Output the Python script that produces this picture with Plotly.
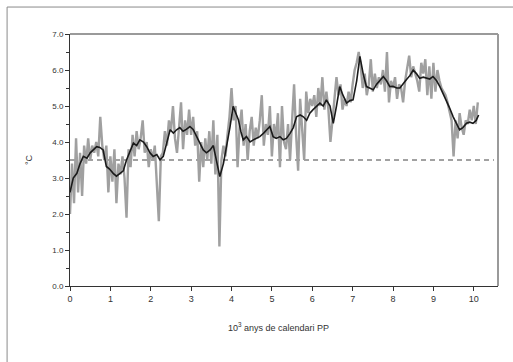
import plotly.graph_objects as go

# Raw temperature series (°C), sampled every 50 years from 0 to 10.1 ka cal BP
step_ka = 0.05
raw_temp = [
    2.0, 3.4, 2.3, 4.1, 2.6, 3.7, 2.5, 3.9, 3.4, 4.1,
    3.5, 3.9, 3.7, 4.0, 3.6, 4.7, 3.9, 3.5, 3.9, 2.6,
    3.6, 2.9, 3.8, 2.3, 3.4, 3.1, 3.6, 3.0, 1.9, 3.8,
    3.3, 4.2, 3.6, 4.3, 3.8, 4.1, 4.6, 3.7, 4.0, 3.3,
    3.8, 3.5, 3.9, 3.0, 1.8, 3.6, 3.7, 4.3, 3.9, 4.6,
    4.3, 5.0, 4.1, 3.7, 4.5, 5.1, 3.8, 4.6, 4.2, 4.9,
    4.2, 4.7, 3.9, 4.3, 2.9, 4.0, 3.3, 4.1, 3.5, 4.3,
    3.4, 4.6, 3.1, 4.2, 1.1, 3.5, 3.9, 3.6, 4.2, 4.7,
    5.5, 4.6, 5.0, 3.3, 4.4, 4.9, 3.9, 4.5, 3.5, 4.3,
    4.7, 3.9, 4.4, 4.1, 4.6, 5.3, 3.9, 4.5, 4.2, 5.0,
    3.6, 4.5, 4.1, 4.8, 3.3, 5.0, 4.0, 3.8, 4.5, 3.5,
    4.6, 5.6, 4.2, 3.2, 5.2, 4.4, 3.5, 5.4, 4.8, 5.2,
    5.0, 5.3, 4.7, 5.5, 5.0, 5.8, 4.9, 5.4, 4.9, 4.0,
    4.7, 5.2, 5.8, 5.3, 5.6, 4.9, 5.2, 5.0, 5.4, 5.1,
    5.6, 6.0, 6.2, 6.5, 6.1, 5.5, 5.9, 5.3, 5.6, 6.3,
    5.4, 5.9, 5.5, 5.8, 5.6, 6.0, 5.4, 6.5, 5.1, 5.7,
    5.5, 5.8, 5.2, 5.6, 5.5, 5.1, 5.7, 6.0, 6.4, 5.8,
    6.1, 5.9, 5.7, 5.4, 6.2, 5.9, 6.3, 5.3, 6.1, 5.2,
    6.2, 5.4, 6.0, 5.7, 5.5, 5.4, 5.3, 5.1, 4.8, 4.6,
    3.6, 4.6, 4.1, 4.8, 4.4, 4.2, 4.6, 4.5, 4.9, 4.6,
    5.0, 4.5, 5.1,
]
raw_age = [round(i * step_ka, 2) for i in range(len(raw_temp))]

# Smoothed temperature curve
smooth_age = [
    0.0, 0.08, 0.17, 0.25, 0.33, 0.42, 0.5, 0.58, 0.66, 0.74,
    0.82, 0.9, 0.98, 1.07, 1.15, 1.24, 1.32, 1.4, 1.48, 1.57,
    1.65, 1.73, 1.82, 1.9, 1.98, 2.06, 2.15, 2.23, 2.31, 2.39,
    2.48, 2.56, 2.64, 2.72, 2.8, 2.88, 2.97, 3.05, 3.14, 3.22,
    3.3, 3.38, 3.47, 3.55, 3.6, 3.66, 3.71, 3.8, 3.88, 3.96,
    4.04, 4.1, 4.17, 4.23, 4.29, 4.37, 4.46, 4.54, 4.62, 4.7,
    4.79, 4.87, 4.95, 5.03, 5.11, 5.2, 5.28, 5.36, 5.45, 5.53,
    5.61, 5.7, 5.78, 5.86, 5.94, 6.02, 6.11, 6.19, 6.27, 6.35,
    6.44, 6.52, 6.6, 6.68, 6.76, 6.85, 6.93, 7.01, 7.1, 7.18,
    7.26, 7.34, 7.42, 7.51, 7.59, 7.67, 7.76, 7.84, 7.92, 8.0,
    8.09, 8.17, 8.25, 8.33, 8.42, 8.5, 8.58, 8.66, 8.75, 8.83,
    8.91, 8.99, 9.08, 9.16, 9.24, 9.32, 9.4, 9.49, 9.57, 9.65,
    9.73, 9.82, 9.9, 9.98, 10.06, 10.12,
]
smooth_temp = [
    2.6, 3.0, 3.13, 3.4, 3.6, 3.55, 3.7, 3.8, 3.87, 3.85,
    3.78, 3.32, 3.25, 3.13, 3.05, 3.13, 3.2, 3.5, 3.7, 3.97,
    3.9, 4.06, 4.0, 3.87, 3.7, 3.6, 3.65, 3.5, 3.6, 3.97,
    4.34, 4.25, 4.34, 4.4, 4.3, 4.35, 4.43, 4.35, 4.15, 3.95,
    3.78, 3.7, 3.78, 3.9, 3.6, 3.3, 3.04, 3.4, 3.87, 4.4,
    4.99, 4.8, 4.62, 4.3, 4.06, 4.15, 4.0, 4.06, 4.1, 4.15,
    4.24, 4.35, 4.43, 4.15, 4.1, 4.15, 4.06, 4.1, 4.24, 4.4,
    4.7, 4.75, 4.7, 4.6, 4.8, 4.9, 5.0, 5.08, 5.0, 5.17,
    5.0, 4.52, 5.0, 5.54, 5.3, 5.08, 5.15, 5.17, 5.7, 6.38,
    5.9, 5.54, 5.5, 5.45, 5.6, 5.7, 5.82, 5.7, 5.54, 5.55,
    5.5, 5.5, 5.6, 5.73, 5.85, 6.0, 5.9, 5.77, 5.8, 5.77,
    5.75, 5.82, 5.7, 5.54, 5.35, 5.17, 4.95, 4.7, 4.5, 4.34,
    4.4, 4.52, 4.55, 4.52, 4.6, 4.75,
]

reference_temp = 3.5
x_ticks = list(range(0, 11))
y_ticks = [0, 1, 2, 3, 4, 5, 6, 7]

font_family = "Liberation Sans, Arial, sans-serif"

fig = go.Figure()
fig.add_trace(go.Scatter(
    x=raw_age, y=raw_temp, mode="lines",
    line=dict(color="#a0a0a0", width=2.4),
    hoverinfo="skip", showlegend=False,
))
fig.add_trace(go.Scatter(
    x=smooth_age, y=smooth_temp, mode="lines",
    line=dict(color="#1a1a1a", width=1.6),
    showlegend=False,
))

# Reference level
fig.add_shape(type="line", xref="x", yref="y",
              x0=0, x1=10.5, y0=reference_temp, y1=reference_temp,
              line=dict(color="#444444", width=1, dash="5px,4px"), layer="below")

# Grey frame on the top and right of the plotting area
fig.add_shape(type="line", xref="paper", yref="paper", x0=0, x1=1, y0=1, y1=1,
              line=dict(color="#9a9a9a", width=2))
fig.add_shape(type="line", xref="paper", yref="paper", x0=1, x1=1, y0=0, y1=1,
              line=dict(color="#9a9a9a", width=2))

# Outer box around the figure
fig.add_shape(type="rect", xref="paper", yref="paper",
              x0=-0.147, x1=1.2, y0=-0.5, y1=1.107,
              line=dict(color="#8a8a8a", width=1))

fig.update_layout(
    width=513, height=362,
    margin=dict(l=70, r=15, t=34, b=76),
    paper_bgcolor="white", plot_bgcolor="white",
    font=dict(family=font_family, size=8, color="#333333"),
    xaxis=dict(
        range=[0, 10.6], tickvals=x_ticks, ticks="outside", ticklen=4,
        tickcolor="#333333", showline=True, linecolor="#333333", linewidth=1,
        showgrid=False, zeroline=False, tickfont=dict(size=9),
    ),
    yaxis=dict(
        range=[0, 7], tickvals=y_ticks, tickformat=".1f", ticks="outside",
        ticklen=4, tickcolor="#333333", showline=True, linecolor="#333333",
        linewidth=1, showgrid=False, zeroline=False, tickfont=dict(size=8),
        minor=dict(dtick=0.5, ticks="outside", ticklen=3, tickcolor="#333333"),
    ),
    annotations=[
        dict(text="°C", xref="paper", yref="paper", x=-0.112, y=0.5,
             textangle=-90, showarrow=False, font=dict(size=9)),
        dict(text="10<sup>3</sup> anys de calendari PP", xref="paper", yref="paper",
             x=0.486, y=-0.194, showarrow=False, font=dict(size=9)),
    ],
)

fig.write_html("out.html")
